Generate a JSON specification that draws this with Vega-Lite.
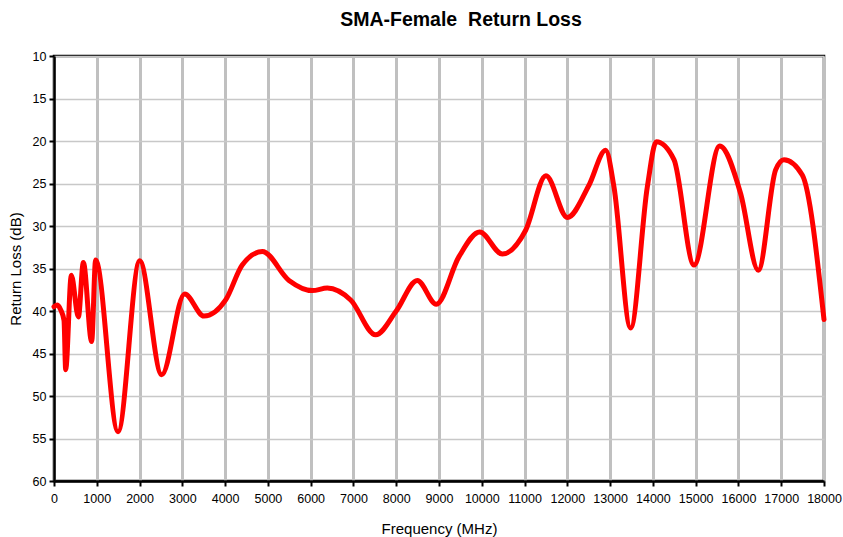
{
  "$schema": "https://vega.github.io/schema/vega-lite/v6.json",
  "width": 770,
  "height": 425,
  "autosize": "none",
  "padding": {"left": 54, "top": 56, "right": 19, "bottom": 56},
  "background": "white",
  "title": {
    "text": "SMA-Female \u00a0Return Loss",
    "font": "Liberation Sans",
    "fontSize": 19.5,
    "fontWeight": "bold",
    "color": "black",
    "anchor": "middle",
    "dx": 22,
    "offset": 20
  },
  "config": {
    "view": {"stroke": "black", "strokeWidth": 2.5},
    "axis": {
      "labelFont": "Liberation Sans",
      "labelFontSize": 12.5,
      "labelColor": "black",
      "titleFont": "Liberation Sans",
      "titleFontSize": 15,
      "titleFontWeight": "normal",
      "titleColor": "black",
      "domainColor": "black",
      "domainWidth": 2.5,
      "tickColor": "black",
      "tickWidth": 2,
      "tickSize": 5
    }
  },
  "data": {
    "values": [
      {"f": 0, "rl": 39.5},
      {"f": 80, "rl": 39.3},
      {"f": 160, "rl": 39.9},
      {"f": 234, "rl": 41.1},
      {"f": 273, "rl": 46.9},
      {"f": 405, "rl": 35.8},
      {"f": 570, "rl": 40.7},
      {"f": 686, "rl": 34.3},
      {"f": 880, "rl": 43.6},
      {"f": 973, "rl": 34.0},
      {"f": 1497, "rl": 54.2},
      {"f": 2003, "rl": 34.1},
      {"f": 2517, "rl": 47.5},
      {"f": 3054, "rl": 38.0},
      {"f": 3506, "rl": 40.6},
      {"f": 4013, "rl": 38.7},
      {"f": 4400, "rl": 34.6},
      {"f": 4870, "rl": 33.0},
      {"f": 5493, "rl": 36.4},
      {"f": 6038, "rl": 37.6},
      {"f": 6390, "rl": 37.3},
      {"f": 6935, "rl": 38.7},
      {"f": 7519, "rl": 42.8},
      {"f": 8000, "rl": 40.0},
      {"f": 8493, "rl": 36.4},
      {"f": 8937, "rl": 39.2},
      {"f": 9467, "rl": 33.6},
      {"f": 9950, "rl": 30.7},
      {"f": 10480, "rl": 33.3},
      {"f": 11026, "rl": 30.5},
      {"f": 11500, "rl": 24.1},
      {"f": 12000, "rl": 29.0},
      {"f": 12506, "rl": 25.2},
      {"f": 12896, "rl": 21.1},
      {"f": 13090, "rl": 25.4},
      {"f": 13480, "rl": 42.0},
      {"f": 13870, "rl": 25.4},
      {"f": 14080, "rl": 20.1},
      {"f": 14493, "rl": 22.2},
      {"f": 14961, "rl": 34.6},
      {"f": 15561, "rl": 20.6},
      {"f": 16052, "rl": 26.2},
      {"f": 16464, "rl": 35.2},
      {"f": 16869, "rl": 23.4},
      {"f": 17064, "rl": 22.2},
      {"f": 17492, "rl": 24.0},
      {"f": 18000, "rl": 41.0}
    ]
  },
  "mark": {"type": "line", "color": "#ff0000", "strokeWidth": 5, "interpolate": "monotone", "strokeCap": "round", "strokeJoin": "round"},
  "encoding": {
    "x": {
      "field": "f",
      "type": "quantitative",
      "scale": {"domain": [0, 18000], "nice": false, "zero": false},
      "axis": {
        "title": "Frequency (MHz)",
        "values": [0,1000,2000,3000,4000,5000,6000,7000,8000,9000,10000,11000,12000,13000,14000,15000,16000,17000,18000],
        "format": "d",
        "labelFlush": false,
        "labelPadding": 6,
        "titlePadding": 17,
        "grid": true,
        "gridColor": "#c0c0c0",
        "gridWidth": 3
      }
    },
    "y": {
      "field": "rl",
      "type": "quantitative",
      "scale": {"domain": [10, 60], "reverse": true, "nice": false, "zero": false},
      "axis": {
        "title": "Return Loss (dB)",
        "values": [10,15,20,25,30,35,40,45,50,55,60],
        "labelFlush": false,
        "labelPadding": 3,
        "titlePadding": 9,
        "grid": true,
        "gridColor": "#c8c8c8",
        "gridWidth": 1.5
      }
    }
  }
}
